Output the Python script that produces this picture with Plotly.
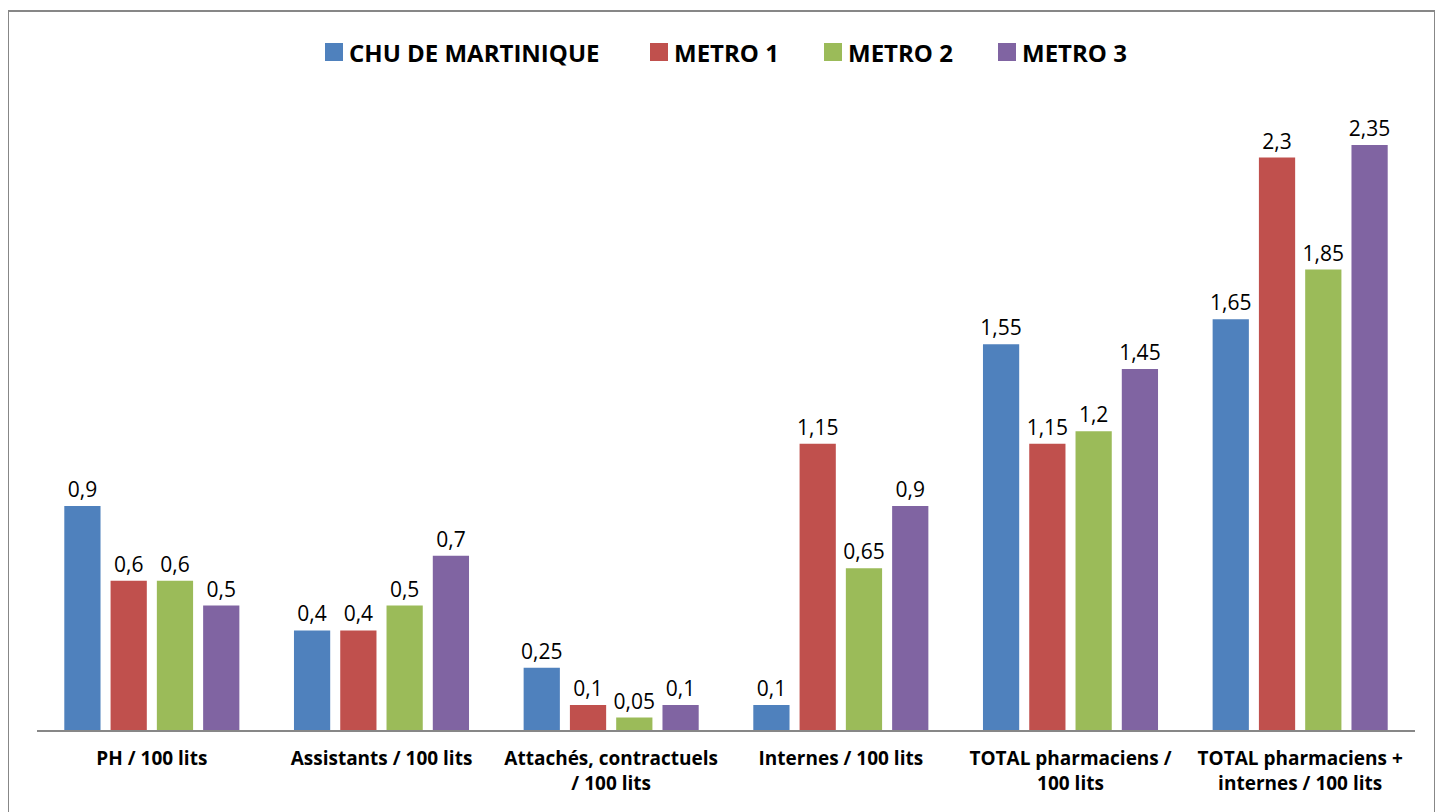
import plotly.graph_objects as go

categories = ["PH / 100 lits", "Assistants / 100 lits", "Attachés, contractuels<br>/ 100 lits",
              "Internes / 100 lits", "TOTAL pharmaciens /<br>100 lits", "TOTAL pharmaciens +<br>internes / 100 lits"]
series_names = ["CHU DE MARTINIQUE", "METRO 1", "METRO 2", "METRO 3"]
chu = [0.9, 0.4, 0.25, 0.1, 1.55, 1.65]
metro1 = [0.6, 0.4, 0.1, 1.15, 1.15, 2.3]
metro2 = [0.6, 0.5, 0.05, 0.65, 1.2, 1.85]
metro3 = [0.5, 0.7, 0.1, 0.9, 1.45, 2.35]
colors = ["#4F81BD", "#C0504D", "#9BBB59", "#8064A2"]
legend_x = [317, 642, 816, 990]  # left edge of legend swatches (figure px)

FONT = "Open Sans"
fig = go.Figure()
for name, vals, col in zip(series_names, [chu, metro1, metro2, metro3], colors):
    fig.add_trace(go.Bar(
        x=categories, y=vals, name=name, marker=dict(color=col, line=dict(width=0)),
        text=[str(v).replace(".", ",") for v in vals], textposition="outside",
        textfont=dict(family=FONT, size=21, color="#000"), cliponaxis=False,
    ))

# page has an 8px body margin; figure is offset by it
W, H = 1435, 804
L, R, T, B = 29, 28, 92, 82
ph = H - T - B
pw = W - L - R
px = lambda fx: (fx - L) / pw
py = lambda fy: (H - B - fy) / ph

shapes = [dict(type="rect", xref="paper", yref="paper",
               x0=px(0), x1=px(1427), y0=py(830), y1=py(3),
               line=dict(color="#878787", width=2), fillcolor="rgba(0,0,0,0)")]
annotations = []
for name, col, lx in zip(series_names, colors, legend_x):
    shapes.append(dict(type="rect", xref="paper", yref="paper",
                       x0=px(lx), x1=px(lx + 18), y0=py(53), y1=py(35),
                       line=dict(width=0), fillcolor=col))
    annotations.append(dict(text=name, xref="paper", yref="paper", x=px(lx + 22), y=py(44),
                            xanchor="left", yanchor="middle", showarrow=False,
                            font=dict(family=FONT, size=24, color="#000", weight="bold")))

fig.update_layout(
    width=W, height=H, margin=dict(l=L, r=R, t=T, b=B),
    paper_bgcolor="white", plot_bgcolor="white",
    barmode="group", bargap=0.194, bargroupgap=0.217,
    font=dict(family=FONT, color="#000"),
    showlegend=False,
    uniformtext=dict(mode="show", minsize=21),
    xaxis=dict(showline=True, linecolor="#878787", linewidth=2, ticks="", showgrid=False,
               tickfont=dict(family=FONT, size=19, color="#000", weight="bold"), ticklabelstandoff=10),
    yaxis=dict(range=[0, ph / 248.9], visible=False, showgrid=False, zeroline=False),
    shapes=shapes, annotations=annotations,
)
fig.write_html("out.html")
